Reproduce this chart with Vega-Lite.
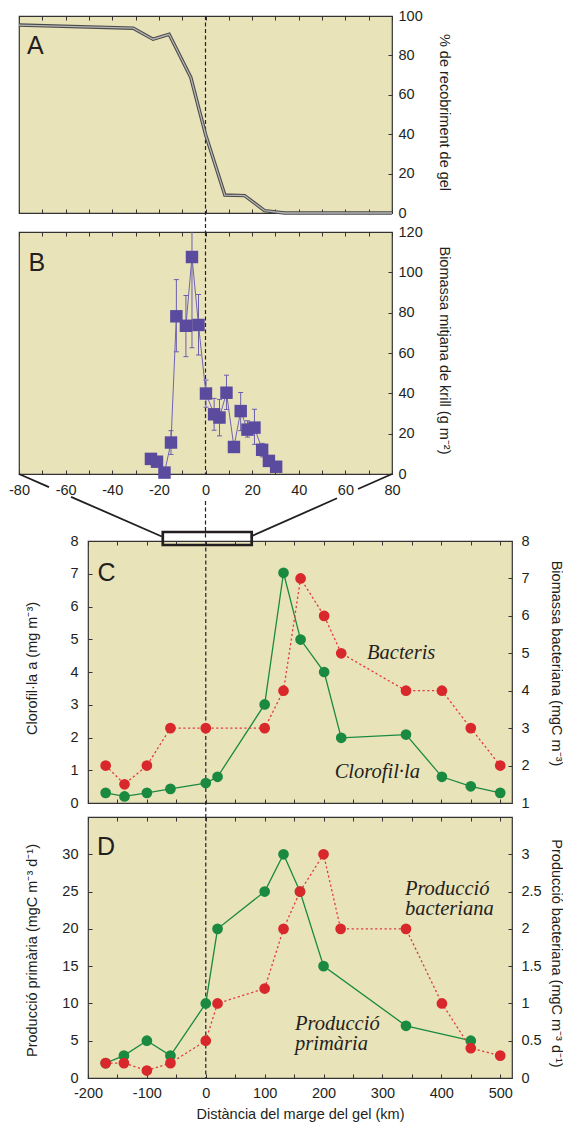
{
"$schema": "https://vega.github.io/schema/vega-lite/v6.json",
"padding": 0,
"background": "white",
"config": {
  "font": "Liberation Sans",
  "view": {"fill": "#e9e3ba", "stroke": "#333333", "strokeWidth": 1.2},
  "axis": {"domain": false, "grid": false, "tickSize": -4, "tickColor": "#333333", "tickWidth": 1,
           "labelFont": "Liberation Sans", "labelFontSize": 14.5, "labelColor": "#231f20",
           "titleFont": "Liberation Sans", "titleFontSize": 14.5, "titleFontWeight": "normal", "titleColor": "#231f20",
           "labelFlush": false, "labelOverlap": false, "labelBound": false}
},
"datasets": {
  "aline": [{"x":-80,"y":95.4},{"x":-31,"y":93.8},{"x":-22.5,"y":88.2},{"x":-15.6,"y":90.7},{"x":-6.3,"y":68.8},{"x":0,"y":40},{"x":8.3,"y":9.1},{"x":16.8,"y":8.8},{"x":25.3,"y":1.2},{"x":33.8,"y":0},{"x":80,"y":0}],
  "krill": [{"x":-23.4,"y":7.5},{"x":-20.8,"y":6.1},{"x":-17.6,"y":0.7},{"x":-14.8,"y":15.6},{"x":-12.5,"y":78.2},{"x":-8.4,"y":73.5},{"x":-5.8,"y":107.6},{"x":-3.0,"y":73.9},{"x":0.2,"y":39.9},{"x":3.7,"y":29.6},{"x":6.0,"y":28.0},{"x":9.0,"y":40.3},{"x":12.2,"y":13.4},{"x":15.1,"y":31.2},{"x":18.0,"y":22.0},{"x":21.0,"y":23.0},{"x":24.3,"y":12.0},{"x":27.2,"y":6.5},{"x":30.3,"y":3.6}],
  "krillErr": [{"x":-14.8,"lo":9.7,"hi":21.5},{"x":-12.5,"lo":60.6,"hi":96.4},{"x":-8.4,"lo":58.2,"hi":88.5},{"x":-5.8,"lo":62.6,"hi":152.6},{"x":-3.0,"lo":59,"hi":89},{"x":0.2,"lo":33.1,"hi":46.6},{"x":3.7,"lo":21.7,"hi":37.5},{"x":6.0,"lo":18.9,"hi":37},{"x":9.0,"lo":32,"hi":49},{"x":12.2,"lo":11,"hi":15.6},{"x":15.1,"lo":21.5,"hi":40.4},{"x":18.0,"lo":18.3,"hi":26.4},{"x":21.0,"lo":14.7,"hi":32.1},{"x":24.3,"lo":8.5,"hi":15.2}],
  "conn": [{"seg":"a","x":-80,"y":0},{"seg":"a","x":-67.13,"y":-6.5},{"seg":"b","x":-57.69,"y":-11.31},{"seg":"b","x":-18.75,"y":-30.99},{"seg":"c","x":80,"y":0},{"seg":"c","x":65.42,"y":-7.44},{"seg":"d","x":56.41,"y":-12.05},{"seg":"d","x":19.39,"y":-30.99}],
  "chl": [{"x":-170,"v":0.31},{"x":-138,"v":0.2},{"x":-100,"v":0.31},{"x":-60,"v":0.43},{"x":0,"v":0.61},{"x":20,"v":0.8},{"x":100,"v":3.01},{"x":132,"v":7.03},{"x":161,"v":4.99},{"x":201,"v":4.0},{"x":230,"v":1.99},{"x":340,"v":2.09},{"x":401,"v":0.8},{"x":450,"v":0.51},{"x":500,"v":0.31}],
  "bact": [{"x":-170,"v":2.0},{"x":-138,"v":1.5},{"x":-100,"v":2.0},{"x":-60,"v":3.0},{"x":0,"v":3.0},{"x":100,"v":3.0},{"x":132,"v":4.0},{"x":161,"v":7.0},{"x":201,"v":6.0},{"x":230,"v":5.0},{"x":340,"v":4.0},{"x":401,"v":4.0},{"x":450,"v":3.0},{"x":500,"v":2.0}],
  "pp": [{"x":-170,"v":2},{"x":-139,"v":3},{"x":-100,"v":5},{"x":-60,"v":3},{"x":0,"v":10},{"x":20,"v":20},{"x":100,"v":25},{"x":132,"v":30},{"x":160,"v":25},{"x":200,"v":15},{"x":340,"v":7},{"x":450,"v":5}],
  "bp": [{"x":-170,"v":0.2},{"x":-139,"v":0.2},{"x":-100,"v":0.1},{"x":-60,"v":0.2},{"x":0,"v":0.5},{"x":20,"v":1.0},{"x":100,"v":1.2},{"x":132,"v":2.0},{"x":160,"v":2.5},{"x":200,"v":3.0},{"x":229,"v":2.0},{"x":340,"v":2.0},{"x":401,"v":1.0},{"x":450,"v":0.4},{"x":500,"v":0.3}]
},
"spacing": -11,
"vconcat": [
 {"spacing": 19, "bounds": "flush", "vconcat": [
  {"width": 373, "height": 197,
   "resolve": {"axis": {"x": "independent"}},
   "layer": [
    {"data": {"values": [{"x": -87.72, "y": 107.61, "y2": 0}]},
     "mark": {"type": "rule", "opacity": 0},
     "encoding": {
       "x": {"field": "x", "type": "quantitative", "scale": {"domain": [-80, 80], "nice": false}, "axis": {"orient": "top", "tickCount": 100, "values": [-80,-70,-60,-50,-40,-30,-20,-10,0,10,20,30,40,50,60,70,80], "labels": false, "title": null}},
       "y": {"field": "y", "type": "quantitative", "scale": {"domain": [0, 100], "nice": false}, "axis": {"orient": "right", "tickCount": 100, "format": "d", "values": [0,20,40,60,80,100], "labelPadding": 10, "title": "% de recobriment de gel", "titleX": 51, "titleY": 96, "titleAngle": 90, "titleBaseline": "middle"}},
       "y2": {"field": "y2"}}},
    {"data": {"values": [{"x": 0, "y": 100, "y2": -9.645}]},
     "mark": {"type": "rule", "color": "#222222", "strokeWidth": 1.2, "strokeDash": [4, 2.5]},
     "encoding": {
       "x": {"field": "x", "type": "quantitative", "scale": {"domain": [-80, 80], "nice": false}, "axis": {"orient": "bottom", "tickCount": 100, "values": [-80,-70,-60,-50,-40,-30,-20,-10,0,10,20,30,40,50,60,70,80], "labels": false, "title": null}},
       "y": {"field": "y", "type": "quantitative", "scale": {"domain": [0, 100], "nice": false}},
       "y2": {"field": "y2"}}},
    {"data": {"name": "aline"},
     "mark": {"type": "line", "color": "#4a4a4a", "strokeWidth": 3.4},
     "encoding": {
       "x": {"field": "x", "type": "quantitative", "scale": {"domain": [-80, 80], "nice": false}, "axis": null},
       "y": {"field": "y", "type": "quantitative", "scale": {"domain": [0, 100], "nice": false}}}},
    {"data": {"name": "aline"},
     "mark": {"type": "line", "color": "#b5b5b5", "strokeWidth": 1.3},
     "encoding": {
       "x": {"field": "x", "type": "quantitative", "scale": {"domain": [-80, 80], "nice": false}, "axis": null},
       "y": {"field": "y", "type": "quantitative", "scale": {"domain": [0, 100], "nice": false}}}},
    {"data": {"values": [{"x": -76.57, "y": 80.86, "t": "A"}]},
     "mark": {"type": "text", "align": "left", "baseline": "alphabetic", "fontSize": 25, "font": "Liberation Sans", "color": "#231f20"},
     "encoding": {
       "x": {"field": "x", "type": "quantitative", "scale": {"domain": [-80, 80], "nice": false}, "axis": null},
       "y": {"field": "y", "type": "quantitative", "scale": {"domain": [0, 100], "nice": false}},
       "text": {"field": "t", "type": "nominal"}}}
   ]},
  {"width": 373, "height": 242,
   "resolve": {"axis": {"x": "independent"}},
   "layer": [
    {"data": {"values": [{"x": 0, "y": 120, "y2": 0}]},
     "mark": {"type": "rule", "color": "#222222", "strokeWidth": 1.2, "strokeDash": [4, 2.5]},
     "encoding": {
       "x": {"field": "x", "type": "quantitative", "scale": {"domain": [-80, 80], "nice": false}, "axis": {"orient": "top", "tickCount": 100, "values": [-80,-70,-60,-50,-40,-30,-20,-10,0,10,20,30,40,50,60,70,80], "labels": false, "title": null}},
       "y": {"field": "y", "type": "quantitative", "scale": {"domain": [0, 120], "nice": false}, "axis": {"orient": "right", "tickCount": 100, "format": "d", "values": [0,20,40,60,80,100,120], "labelPadding": 10, "title": "Biomassa mitjana de krill (g m⁻²)", "titleX": 51, "titleY": 118, "titleAngle": 90, "titleBaseline": "middle"}},
       "y2": {"field": "y2"}}},
    {"data": {"values": [{"x": 0, "y": -13.39, "y2": -31.74}]},
     "mark": {"type": "rule", "color": "#222222", "strokeWidth": 1.2, "strokeDash": [4, 2.5]},
     "encoding": {
       "x": {"field": "x", "type": "quantitative", "scale": {"domain": [-80, 80], "nice": false}, "axis": {"orient": "bottom", "tickCount": 100, "values": [-80,-70,-60,-50,-40,-30,-20,-10,0,10,20,30,40,50,60,70,80], "labelExpr": "datum.value % 20 == 0 ? toString(datum.value) : ''", "labelPadding": 13, "title": null}},
       "y": {"field": "y", "type": "quantitative", "scale": {"domain": [0, 120], "nice": false}},
       "y2": {"field": "y2"}}},
    {"data": {"name": "conn"},
     "mark": {"type": "line", "color": "#231f20", "strokeWidth": 1.8},
     "encoding": {
       "x": {"field": "x", "type": "quantitative", "scale": {"domain": [-80, 80], "nice": false}, "axis": null},
       "y": {"field": "y", "type": "quantitative", "scale": {"domain": [0, 120], "nice": false}},
       "detail": {"field": "seg", "type": "nominal"}}},
    {"data": {"name": "krillErr"},
     "mark": {"type": "rule", "color": "#6b5fae", "strokeWidth": 1, "clip": true},
     "encoding": {
       "x": {"field": "x", "type": "quantitative", "scale": {"domain": [-80, 80], "nice": false}, "axis": null},
       "y": {"field": "lo", "type": "quantitative", "scale": {"domain": [0, 120], "nice": false}},
       "y2": {"field": "hi"}}},
    {"data": {"name": "krillErr"},
     "mark": {"type": "tick", "orient": "horizontal", "size": 5, "thickness": 1, "color": "#6b5fae", "opacity": 1, "clip": true},
     "encoding": {
       "x": {"field": "x", "type": "quantitative", "scale": {"domain": [-80, 80], "nice": false}, "axis": null},
       "y": {"field": "lo", "type": "quantitative", "scale": {"domain": [0, 120], "nice": false}}}},
    {"data": {"name": "krillErr"},
     "mark": {"type": "tick", "orient": "horizontal", "size": 5, "thickness": 1, "color": "#6b5fae", "opacity": 1, "clip": true},
     "encoding": {
       "x": {"field": "x", "type": "quantitative", "scale": {"domain": [-80, 80], "nice": false}, "axis": null},
       "y": {"field": "hi", "type": "quantitative", "scale": {"domain": [0, 120], "nice": false}}}},
    {"data": {"name": "krill"},
     "mark": {"type": "line", "color": "#6f63b3", "strokeWidth": 1},
     "encoding": {
       "x": {"field": "x", "type": "quantitative", "scale": {"domain": [-80, 80], "nice": false}, "axis": null},
       "y": {"field": "y", "type": "quantitative", "scale": {"domain": [0, 120], "nice": false}}}},
    {"data": {"name": "krill"},
     "mark": {"type": "square", "filled": true, "size": 155, "color": "#5a4b9f", "opacity": 1},
     "encoding": {
       "x": {"field": "x", "type": "quantitative", "scale": {"domain": [-80, 80], "nice": false}, "axis": null},
       "y": {"field": "y", "type": "quantitative", "scale": {"domain": [0, 120], "nice": false}}}},
    {"data": {"values": [{"x": -75.93, "y": 100.66, "t": "B"}]},
     "mark": {"type": "text", "align": "left", "baseline": "alphabetic", "fontSize": 25, "font": "Liberation Sans", "color": "#231f20"},
     "encoding": {
       "x": {"field": "x", "type": "quantitative", "scale": {"domain": [-80, 80], "nice": false}, "axis": null},
       "y": {"field": "y", "type": "quantitative", "scale": {"domain": [0, 120], "nice": false}},
       "text": {"field": "t", "type": "nominal"}}}
   ]}
 ]},
 {"spacing": 0, "hconcat": [
  {"width": 1, "height": 1, "view": {"fill": null, "stroke": null},
   "data": {"values": [{"a": 0}]},
   "mark": {"type": "rule", "opacity": 0},
   "encoding": {"x": {"value": 0}, "y": {"value": 0}, "y2": {"value": 1}}},
  {"spacing": 14, "bounds": "flush", "vconcat": [
   {"width": 424, "height": 262,
    "resolve": {"scale": {"y": "independent"}, "axis": {"x": "independent", "y": "independent"}},
    "layer": [
     {"layer": [
      {"data": {"values": [{"x": -312.92}]},
       "mark": {"type": "rule", "opacity": 0},
       "encoding": {
         "x": {"field": "x", "type": "quantitative", "scale": {"domain": [-200, 520], "nice": false}, "axis": {"orient": "top", "tickCount": 100, "values": [-200,-150,-100,-50,0,50,100,150,200,250,300,350,400,450,500], "labels": false, "title": null}}}},
      {"data": {"values": [{"x": 0, "y": 8, "y2": -0.4275}]},
       "mark": {"type": "rule", "color": "#222222", "strokeWidth": 1.2, "strokeDash": [4, 2.5]},
       "encoding": {
         "x": {"field": "x", "type": "quantitative", "scale": {"domain": [-200, 520], "nice": false}},
         "y": {"field": "y", "type": "quantitative", "scale": {"domain": [0, 8], "nice": false}, "axis": {"orient": "left", "tickCount": 100, "format": "d", "values": [0,1,2,3,4,5,6,7,8], "labelPadding": 14, "title": "Clorofil·la a (mg m⁻³)", "titleX": -56, "titleY": 127, "titleAngle": -90, "titleBaseline": "middle"}},
         "y2": {"field": "y2"}}},
      {"data": {"values": [{"x": -73, "x2": 78, "y": 8.275, "y2": 7.878}]},
       "mark": {"type": "rect", "fill": null, "stroke": "#231f20", "strokeWidth": 2.7},
       "encoding": {
         "x": {"field": "x", "type": "quantitative", "scale": {"domain": [-200, 520], "nice": false}},
         "x2": {"field": "x2"},
         "y": {"field": "y", "type": "quantitative", "scale": {"domain": [0, 8], "nice": false}},
         "y2": {"field": "y2"}}},
      {"data": {"name": "chl"},
       "mark": {"type": "line", "color": "#1a8a40", "strokeWidth": 1.3},
       "encoding": {
         "x": {"field": "x", "type": "quantitative", "scale": {"domain": [-200, 520], "nice": false}},
         "y": {"field": "v", "type": "quantitative", "scale": {"domain": [0, 8], "nice": false}}}},
      {"data": {"name": "chl"},
       "mark": {"type": "circle", "size": 115, "color": "#1a8a40", "opacity": 1},
       "encoding": {
         "x": {"field": "x", "type": "quantitative", "scale": {"domain": [-200, 520], "nice": false}},
         "y": {"field": "v", "type": "quantitative", "scale": {"domain": [0, 8], "nice": false}}}},
      {"data": {"values": [{"x": -183.9, "y": 6.77, "t": "C"}]},
       "mark": {"type": "text", "align": "left", "baseline": "alphabetic", "fontSize": 25, "font": "Liberation Sans", "color": "#231f20"},
       "encoding": {
         "x": {"field": "x", "type": "quantitative", "scale": {"domain": [-200, 520], "nice": false}},
         "y": {"field": "y", "type": "quantitative", "scale": {"domain": [0, 8], "nice": false}},
         "text": {"field": "t", "type": "nominal"}}},
      {"data": {"values": [{"x": 273.8, "y": 4.406, "t": "Bacteris"}, {"x": 218.9, "y": 0.763, "t": "Clorofil·la"}]},
       "mark": {"type": "text", "align": "left", "baseline": "alphabetic", "fontSize": 20.5, "font": "Liberation Serif", "fontStyle": "italic", "color": "#231f20"},
       "encoding": {
         "x": {"field": "x", "type": "quantitative", "scale": {"domain": [-200, 520], "nice": false}},
         "y": {"field": "y", "type": "quantitative", "scale": {"domain": [0, 8], "nice": false}},
         "text": {"field": "t", "type": "nominal"}}}
     ]},
     {"layer": [
      {"data": {"name": "bact"},
       "mark": {"type": "line", "color": "#e03a3c", "strokeWidth": 1.3, "strokeDash": [2.2, 2.5]},
       "encoding": {
         "x": {"field": "x", "type": "quantitative", "scale": {"domain": [-200, 520], "nice": false}, "axis": {"orient": "bottom", "tickCount": 100, "values": [-200,-150,-100,-50,0,50,100,150,200,250,300,350,400,450,500], "labels": false, "title": null}},
         "y": {"field": "v", "type": "quantitative", "scale": {"domain": [1, 8], "nice": false}, "axis": {"orient": "right", "tickCount": 100, "format": "d", "values": [1,2,3,4,5,6,7,8], "labelPadding": 13, "title": "Biomassa bacteriana (mgC m⁻³)", "titleX": 43, "titleY": 122, "titleAngle": 90, "titleBaseline": "middle"}}}},
      {"data": {"name": "bact"},
       "mark": {"type": "circle", "size": 115, "color": "#d9282c", "opacity": 1},
       "encoding": {
         "x": {"field": "x", "type": "quantitative", "scale": {"domain": [-200, 520], "nice": false}},
         "y": {"field": "v", "type": "quantitative", "scale": {"domain": [1, 8], "nice": false}}}}
     ]}
    ]},
   {"width": 424, "height": 261,
    "resolve": {"scale": {"y": "independent"}, "axis": {"x": "independent", "y": "independent"}},
    "layer": [
     {"layer": [
      {"data": {"values": [{"x": 0, "y": 35, "y2": 0}]},
       "mark": {"type": "rule", "color": "#222222", "strokeWidth": 1.2, "strokeDash": [4, 2.5]},
       "encoding": {
         "x": {"field": "x", "type": "quantitative", "scale": {"domain": [-200, 520], "nice": false}, "axis": {"orient": "top", "tickCount": 100, "values": [-200,-150,-100,-50,0,50,100,150,200,250,300,350,400,450,500], "labels": false, "title": null}},
         "y": {"field": "y", "type": "quantitative", "scale": {"domain": [0, 35], "nice": false}, "axis": {"orient": "left", "tickCount": 100, "format": "d", "values": [0,5,10,15,20,25,30], "labelPadding": 14, "title": "Producció primària (mgC m⁻³ d⁻¹)", "titleX": -56, "titleY": 133, "titleAngle": -90, "titleBaseline": "middle"}},
         "y2": {"field": "y2"}}},
      {"data": {"name": "pp"},
       "mark": {"type": "line", "color": "#1a8a40", "strokeWidth": 1.3},
       "encoding": {
         "x": {"field": "x", "type": "quantitative", "scale": {"domain": [-200, 520], "nice": false}},
         "y": {"field": "v", "type": "quantitative", "scale": {"domain": [0, 35], "nice": false}}}},
      {"data": {"name": "pp"},
       "mark": {"type": "circle", "size": 115, "color": "#1a8a40", "opacity": 1},
       "encoding": {
         "x": {"field": "x", "type": "quantitative", "scale": {"domain": [-200, 520], "nice": false}},
         "y": {"field": "v", "type": "quantitative", "scale": {"domain": [0, 35], "nice": false}}}},
      {"data": {"values": [{"x": -184.7, "y": 29.94, "t": "D"}]},
       "mark": {"type": "text", "align": "left", "baseline": "alphabetic", "fontSize": 25, "font": "Liberation Sans", "color": "#231f20"},
       "encoding": {
         "x": {"field": "x", "type": "quantitative", "scale": {"domain": [-200, 520], "nice": false}},
         "y": {"field": "y", "type": "quantitative", "scale": {"domain": [0, 35], "nice": false}},
         "text": {"field": "t", "type": "nominal"}}},
      {"data": {"values": [{"x": 338.1, "y": 24.58, "t": "Producció\nbacteriana"}, {"x": 151.5, "y": 6.48, "t": "Producció\nprimària"}]},
       "mark": {"type": "text", "align": "left", "baseline": "alphabetic", "fontSize": 20.5, "lineHeight": 20.5, "lineBreak": "\n", "font": "Liberation Serif", "fontStyle": "italic", "color": "#231f20"},
       "encoding": {
         "x": {"field": "x", "type": "quantitative", "scale": {"domain": [-200, 520], "nice": false}},
         "y": {"field": "y", "type": "quantitative", "scale": {"domain": [0, 35], "nice": false}},
         "text": {"field": "t", "type": "nominal"}}}
     ]},
     {"layer": [
      {"data": {"name": "bp"},
       "mark": {"type": "line", "color": "#e03a3c", "strokeWidth": 1.3, "strokeDash": [2.2, 2.5]},
       "encoding": {
         "x": {"field": "x", "type": "quantitative", "scale": {"domain": [-200, 520], "nice": false}, "axis": {"orient": "bottom", "tickCount": 100, "values": [-200,-150,-100,-50,0,50,100,150,200,250,300,350,400,450,500], "labelExpr": "datum.value % 100 == 0 ? toString(datum.value) : ''", "labelPadding": 12, "title": "Distància del marge del gel (km)", "titleY": 29, "titleBaseline": "top"}},
         "y": {"field": "v", "type": "quantitative", "scale": {"domain": [0, 3.5], "nice": false}, "axis": {"orient": "right", "tickCount": 100, "values": [0,0.5,1,1.5,2,2.5,3], "labelExpr": "toString(datum.value)", "labelPadding": 13, "title": "Producció bacteriana (mgC m⁻³ d⁻¹)", "titleX": 43, "titleY": 136, "titleAngle": 90, "titleBaseline": "middle"}}}},
      {"data": {"name": "bp"},
       "mark": {"type": "circle", "size": 115, "color": "#d9282c", "opacity": 1},
       "encoding": {
         "x": {"field": "x", "type": "quantitative", "scale": {"domain": [-200, 520], "nice": false}},
         "y": {"field": "v", "type": "quantitative", "scale": {"domain": [0, 3.5], "nice": false}}}}
     ]}
    ]}
  ]}
 ]}
]
}
